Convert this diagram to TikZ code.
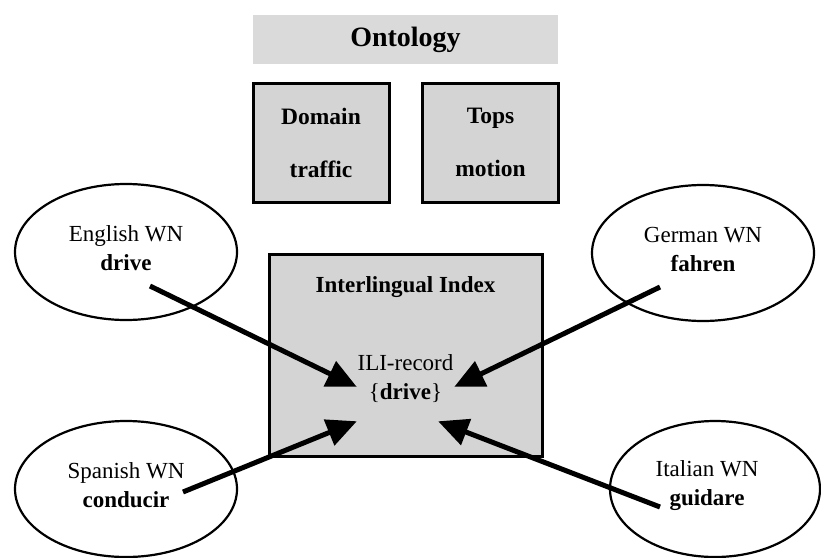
\documentclass[tikz,border=0pt]{standalone}
\usepackage{fontspec}
\setmainfont{Liberation Serif}
\usetikzlibrary{shapes.geometric,arrows.meta}
\definecolor{boxgray}{HTML}{D4D4D4}
\definecolor{bargray}{HTML}{DADADA}
\tikzset{
  bar/.style={fill=bargray, draw=none, minimum width=305pt, minimum height=49pt, inner sep=0pt,
              font=\fontsize{28}{32}\selectfont\bfseries},
  conceptbox/.style={fill=boxgray, draw=black, line width=3pt, minimum width=136pt, minimum height=119pt,
              inner sep=0pt, align=center, font=\fontsize{23.5}{53}\selectfont\bfseries},
  indexbox/.style={fill=boxgray, draw=black, line width=3pt, minimum width=273pt, minimum height=202pt, inner sep=0pt},
  wn/.style={ellipse, draw=black, line width=2.2pt, fill=white, inner sep=0pt},
  wntext/.style={align=center, font=\fontsize{23}{29}\selectfont, inner sep=0pt},
  heading/.style={font=\fontsize{23}{29}\selectfont\bfseries, inner sep=0pt},
  link/.style={line width=5pt, -{Triangle[length=30pt,width=27pt]}, shorten >=-2pt}
}
\begin{document}
\begin{tikzpicture}[x=1pt,y=-1pt]
\useasboundingbox (0,0) rectangle (821,557);

% ontology layer
\node[bar] (onto) at (405.5,39.5) {Ontology};
\node[conceptbox] (dom) at (321,142.5) {Domain\\traffic};
\node[conceptbox] (tops) at (490.5,142.5) {Tops\\motion};

% interlingual index
\node[indexbox] (ili) at (405.5,355) {};
\node[heading] (ilititle) at (405.5,287) {Interlingual Index};
\node[wntext] (record) at (405.5,379) {ILI-record\\\{\textbf{drive}\}};

% wordnets
\node[wn, minimum width=222pt, minimum height=136pt] (en) at (126,252) {};
\node[wntext] (entext) at (126,248) {English WN\\\textbf{drive}};
\node[wn, minimum width=222pt, minimum height=136pt] (de) at (703,253) {};
\node[wntext] (detext) at (703,249) {German WN\\\textbf{fahren}};
\node[wn, minimum width=222pt, minimum height=136pt] (es) at (126,489) {};
\node[wntext] (estext) at (126,485) {Spanish WN\\\textbf{conducir}};
\node[wn, minimum width=210pt, minimum height=136pt] (it) at (715,489) {};
\node[wntext] (ittext) at (707,486) {Italian WN\\\textbf{guidare}};

% arrow ends
\coordinate (enstart) at (150,286);
\coordinate (entip) at (355,386);
\coordinate (destart) at (660,287);
\coordinate (detip) at (456,386);
\coordinate (esstart) at (183,492);
\coordinate (estip) at (355,422);
\coordinate (itstart) at (660,507);
\coordinate (ittip) at (440,422);

\draw[link] (enstart) -- (entip);
\draw[link] (destart) -- (detip);
\draw[link] (esstart) -- (estip);
\draw[link] (itstart) -- (ittip);
\end{tikzpicture}
\end{document}
